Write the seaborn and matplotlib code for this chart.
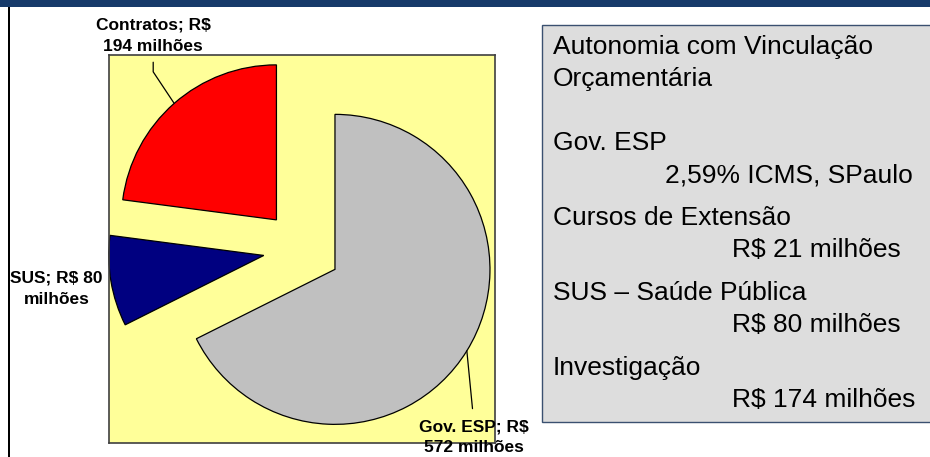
import matplotlib
matplotlib.use("Agg")
import matplotlib.pyplot as plt
from matplotlib.patches import Rectangle
import numpy as np
import seaborn as sns

# pie data (R$ milhões)
fontes = ["Gov. ESP", "SUS", "Contratos"]
valores = [572, 80, 194]
cores = ["#C0C0C0", "#000080", "#FF0000"]
rotulos = ["Gov. ESP; R$\n572 milhões", "SUS; R$ 80\nmilhões", "Contratos; R$\n194 milhões"]

# text panel on the right
painel = [
    ("Autonomia com Vinculação", 0),
    ("Orçamentária", 0),
    ("Gov. ESP", 0),
    ("2,59% ICMS, SPaulo", 1),
    ("Cursos de Extensão", 0),
    ("R$ 21 milhões", 2),
    ("SUS – Saúde Pública", 0),
    ("R$ 80 milhões", 2),
    ("Investigação", 0),
    ("R$ 174 milhões", 2),
]
painel_y = [47, 79, 143, 176, 218, 250, 293, 325, 368, 400]

sns.set_style("white")
plt.rcParams["font.family"] = ["Liberation Sans", "DejaVu Sans"]
plt.rcParams["text.color"] = "black"

W, H = 930, 457
fig = plt.figure(figsize=(W / 100, H / 100), dpi=100)
fig.patch.set_facecolor("white")

# top bar and left rule
fig.patches.append(Rectangle((0, 1 - 7 / H), 1, 7 / H, transform=fig.transFigure,
                             facecolor="#163A6A", edgecolor="none", zorder=0))
fig.patches.append(Rectangle((8 / W, 0), 2 / W, 1 - 7 / H, transform=fig.transFigure,
                             facecolor="black", edgecolor="none", zorder=0))

# pie axes (yellow square)
ax = fig.add_axes([109 / W, 14 / H, 386 / W, 388 / H])

wedges, _ = ax.pie(valores, colors=cores, startangle=90, counterclock=False,
                   explode=[0.25] * len(valores),
                   wedgeprops=dict(edgecolor="black", linewidth=0.9))
lim = 193 / 155
ax.set_xlim(-lim, lim)
ax.set_ylim(-lim * 388 / 386, lim * 388 / 386)
ax.set_aspect("equal")
ax.set_frame_on(True)
ax.set_facecolor("#FFFF99")
ax.set_xticks([])
ax.set_yticks([])
for s in ax.spines.values():
    s.set_visible(True)
    s.set_color("#404040")
    s.set_linewidth(1.2)


def arc_mid(w):
    ang = np.deg2rad((w.theta1 + w.theta2) / 2)
    cx, cy = w.center
    return cx + w.r * np.cos(ang), cy + w.r * np.sin(ang)


lab_kw = dict(ha="center", va="center", fontsize=12.5, fontweight="bold",
              linespacing=1.5, color="black", clip_on=False)

# Gov. ESP
mx, my = arc_mid(wedges[0])
ax.plot([mx, 1.10], [my, -1.03], color="black", lw=0.9, clip_on=False)
ax.text(1.108, -1.215, rotulos[0], **lab_kw)

# SUS
ax.text(-1.585, -0.255, rotulos[1], **lab_kw)

# Contratos
mx, my = arc_mid(wedges[2])
ax.plot([mx, -0.96, -0.96], [my, 1.143, 1.205], color="black", lw=0.9, clip_on=False)
ax.text(-0.96, 1.375, rotulos[2], **lab_kw)

# right text panel
fig.patches.append(Rectangle((542 / W, 1 - 422 / H), 400 / W, 397 / H,
                             transform=fig.transFigure, facecolor="#DDDDDD",
                             edgecolor="#3A5070", linewidth=1.0, zorder=1))
indent = [553, 665, 732]
for (txt, lvl), y in zip(painel, painel_y):
    fig.text(indent[lvl] / W, 1 - y / H, txt, fontsize=19, color="black",
             ha="left", va="center", zorder=2)

fig.savefig("out.png", dpi=100)
